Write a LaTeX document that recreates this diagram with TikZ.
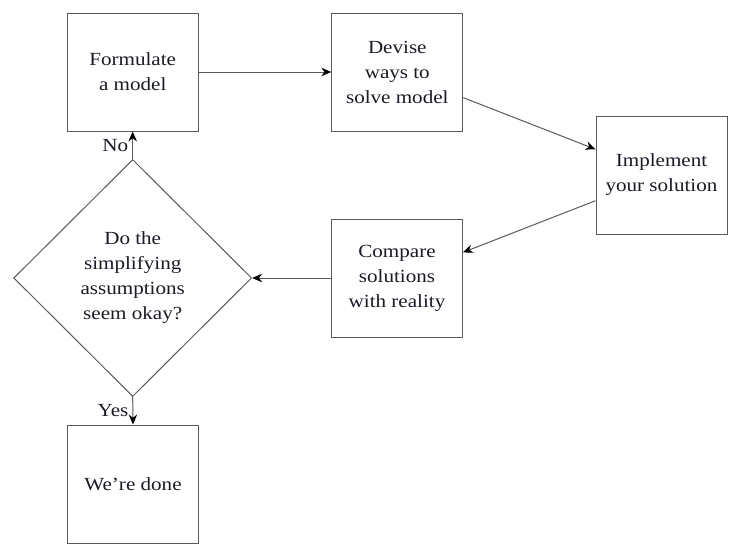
\documentclass[tikz,border=0pt]{standalone}
\usepackage{fontspec}
\setmainfont{Liberation Serif}[FakeStretch=1.14]
\usetikzlibrary{arrows.meta,shapes.geometric}
\definecolor{linegray}{HTML}{5A5A5A}
\definecolor{txt}{HTML}{1A1A26}
\begin{document}
\begin{tikzpicture}[x=1pt,y=-1pt,
  every node/.style={font=\fontsize{18.5}{25}\selectfont, text=txt},
  stepbox/.style={draw=linegray, line width=1pt, rectangle, minimum width=131pt, minimum height=118pt, align=center, inner sep=2pt},
  decision/.style={draw=linegray, line width=1pt, diamond, minimum width=238pt, minimum height=237pt, align=center, inner sep=0pt},
  flow/.style={draw=linegray, line width=1pt, -{Stealth[length=10pt,width=8.5pt,black]}},
  lbl/.style={left, inner sep=4pt}
]
\useasboundingbox (0,0) rectangle (741,557);
\node[stepbox] (F) at (132.7,72) {Formulate\\a model};
\node[stepbox] (D) at (397.3,72) {Devise\\ways to\\solve model};
\node[stepbox] (I) at (661.5,175) {Implement\\your solution};
\node[stepbox] (C) at (397,278) {Compare\\solutions\\with reality};
\node[decision] (Q) at (132.7,278) {Do the\\simplifying\\assumptions\\seem okay?};
\node[stepbox] (W) at (133,484) {We’re done};
\draw[flow] (F) -- (D);
\draw[flow] (D) -- (I);
\draw[flow] (I) -- (C);
\draw[flow] (C) -- (Q.east);
\draw[flow] (Q.north) -- node[lbl] (no) {No} (F.south);
\draw[flow] (Q.south) -- node[lbl] (yes) {Yes} (W.north);
\end{tikzpicture}
\end{document}
